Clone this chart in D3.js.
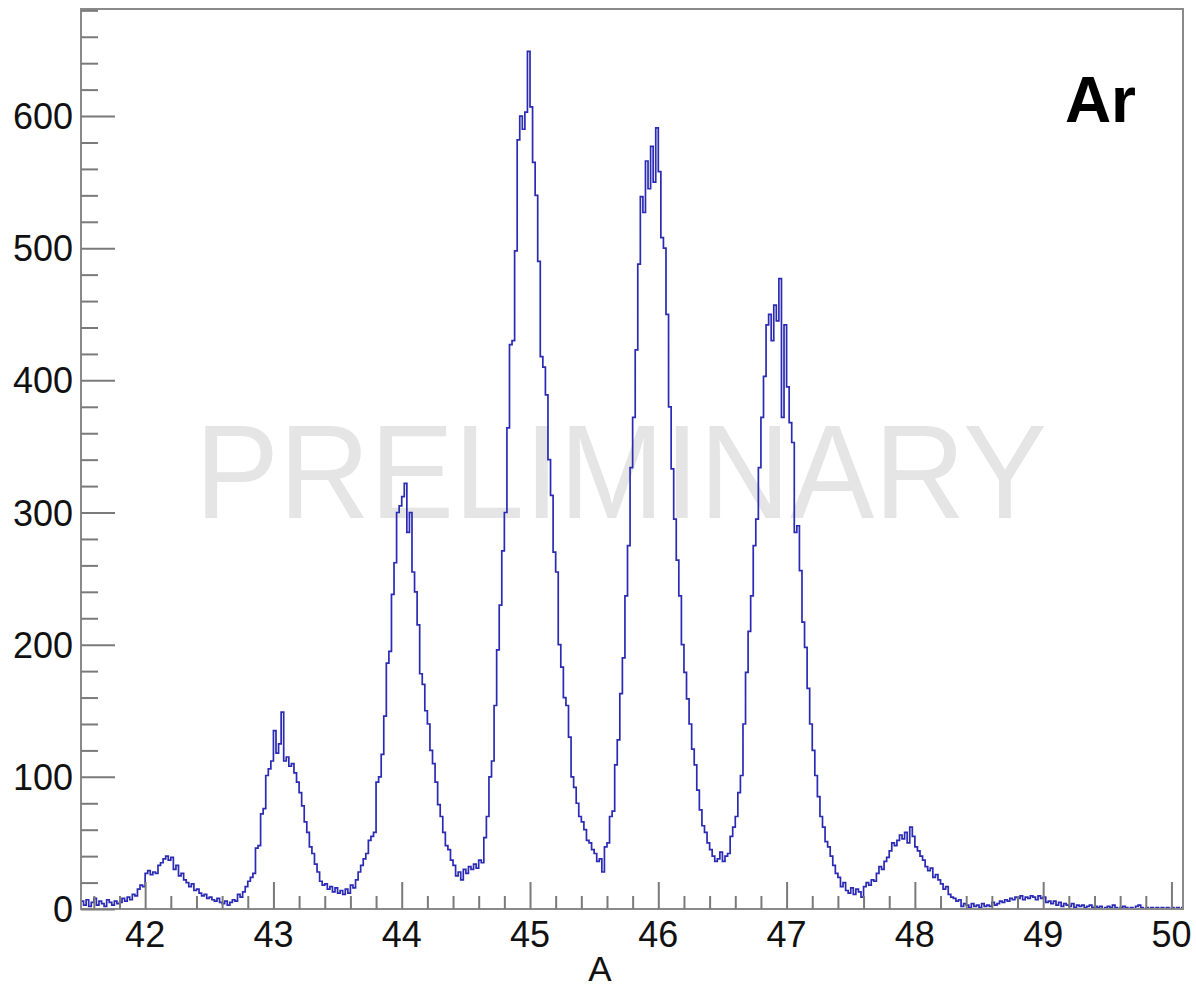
<!DOCTYPE html>
<html>
<head>
<meta charset="utf-8">
<script src="https://cdn.jsdelivr.net/npm/d3@7"></script>
<style>
  body { margin: 0; background: #fff; }
  text { font-family: "Liberation Sans", Arial, Helvetica, sans-serif; }
</style>
</head>
<body>
<script>
// Ar mass histogram, bins of 0.02 starting at 41.5

var binStart = 41.5;
var binWidth = 0.02;

// counts per unit of A (bins 41.50 .. 41.98)
var counts41 = [6, 3, 7, 2, 5, 8, 3, 6, 4, 2, 7, 5, 3, 6, 4, 5, 8, 6, 9, 7, 11, 10, 15, 18, 17];
// 42.00 .. 42.98
var counts42 = [27, 29, 26, 28, 27, 33, 35, 38, 40, 37,
                39, 30, 33, 25, 27, 22, 20, 17, 19, 14,
                15, 12, 10, 11, 8, 9, 7, 6, 8, 5,
                4, 6, 3, 5, 7, 6, 11, 9, 13, 17,
                21, 24, 27, 46, 48, 72, 76, 101, 106, 112];
// 43.00 .. 43.98
var counts43 = [135, 118, 125, 149, 112, 115, 108, 110, 103, 96,
                88, 78, 66, 58, 47, 42, 34, 28, 21, 18,
                19, 15, 17, 13, 16, 12, 14, 11, 15, 12,
                18, 16, 22, 28, 33, 38, 42, 52, 55, 58,
                96, 100, 117, 146, 186, 195, 238, 262, 300, 305];
// 44.00 .. 44.98
var counts44 = [312, 322, 285, 300, 255, 240, 215, 178, 170, 150,
                140, 120, 110, 96, 79, 70, 58, 48, 45, 37,
                33, 25, 28, 22, 30, 27, 32, 30, 34, 31,
                37, 35, 54, 70, 100, 112, 154, 196, 230, 271,
                300, 364, 427, 430, 498, 582, 600, 590, 603, 649];
// 45.00 .. 45.98
var counts45 = [607, 565, 540, 490, 418, 410, 389, 340, 313, 270,
                255, 200, 183, 160, 154, 130, 100, 92, 80, 70,
                66, 60, 52, 50, 45, 42, 36, 38, 28, 47,
                50, 70, 74, 109, 128, 163, 190, 237, 275, 334,
                372, 423, 488, 539, 527, 566, 545, 577, 550, 591];
// 46.00 .. 46.98
var counts46 = [558, 508, 500, 450, 380, 333, 295, 264, 237, 200,
                179, 159, 140, 121, 109, 90, 75, 63, 58, 50,
                45, 40, 36, 38, 43, 36, 40, 42, 55, 62,
                70, 88, 101, 140, 179, 210, 237, 275, 295, 334,
                372, 403, 442, 450, 430, 457, 445, 477, 372, 442];
// 47.00 .. 47.98
var counts47 = [395, 368, 353, 285, 290, 256, 217, 198, 167, 140,
                120, 101, 85, 70, 62, 51, 47, 40, 33, 27,
                24, 17, 20, 14, 12, 16, 11, 15, 13, 9,
                17, 20, 18, 22, 21, 27, 32, 30, 36, 39,
                44, 50, 48, 52, 56, 53, 58, 50, 62, 55];
// 48.00 .. 48.98
var counts48 = [47, 44, 40, 37, 32, 29, 31, 24, 26, 22,
                19, 15, 17, 11, 9, 8, 6, 7, 2, 4,
                3, 1, 4, 2, 3, 1, 4, 2, 3, 2,
                5, 3, 4, 6, 5, 7, 6, 8, 7, 9,
                8, 10, 7, 9, 8, 10, 9, 7, 10, 8];
// 49.00 .. 49.98
var counts49 = [9, 5, 6, 4, 6, 3, 5, 2, 4, 3,
                2, 4, 1, 3, 2, 3, 1, 2, 3, 1,
                2, 1, 2, 0, 1, 2, 1, 3, 1, 0,
                1, 2, 1, 0, 1, 0, 2, 3, 1, 0,
                1, 0, 1, 0, 1, 0, 1, 0, 1, 0];
// 50.00 .. 50.08
var counts50 = [1, 0, 1, 0, 1];

var xTickValues = [42, 43, 44, 45, 46, 47, 48, 49, 50];
var yTickValues = [0, 100, 200, 300, 400, 500, 600];

function init() {
    var w = 1196;
    var h = 990;
    var left = 81, right = 1183, top = 9, bottom = 909;

    var counts = [].concat(counts41, counts42, counts43, counts44, counts45,
                           counts46, counts47, counts48, counts49, counts50);

    var svg = d3.select("body")
                .append("svg")
                .attr("width", w)
                .attr("height", h);

    var xScale = d3.scaleLinear().domain([41.5, 50.09]).range([left, right]);
    var yScale = d3.scaleLinear().domain([0, 681]).range([bottom, top]);

    // watermark sits behind the histogram
    svg.append("text")
        .attr("x", 195)
        .attr("y", 518)
        .attr("font-size", 133)
        .attr("textLength", 852)
        .attr("lengthAdjust", "spacingAndGlyphs")
        .attr("fill", "#e5e5e5")
        .text("PRELIMINARY");

    svg.append("clipPath").attr("id", "plotclip")
        .append("rect")
        .attr("x", left).attr("y", top)
        .attr("width", right - left).attr("height", bottom - top);

    // step outline: each bin gives its left edge, plus the last right edge
    var pts = counts.map(function (c, i) { return [binStart + i * binWidth, c]; });
    pts.push([binStart + counts.length * binWidth, counts[counts.length - 1]]);

    var line = d3.line()
                 .x(function (d) { return xScale(d[0]); })
                 .y(function (d) { return yScale(d[1]); })
                 .curve(d3.curveStepAfter);

    svg.append("path")
        .datum(pts)
        .attr("clip-path", "url(#plotclip)")
        .attr("d", line)
        .attr("fill", "none")
        .attr("stroke", "#2a2ab4")
        .attr("stroke-width", 1.7);

    // frame
    svg.append("rect")
        .attr("x", left).attr("y", top)
        .attr("width", right - left).attr("height", bottom - top)
        .attr("fill", "none")
        .attr("stroke", "#8a8a8a")
        .attr("stroke-width", 2);

    // x axis: ticks point up into the frame
    var xMinor = d3.range(41.6, 50.09, 0.2).filter(function (v) {
        return Math.abs(v - Math.round(v)) > 0.01;
    });
    var xAxisMajor = d3.axisTop(xScale).tickValues(xTickValues).tickSize(27).tickFormat("");
    var xAxisMinor = d3.axisTop(xScale).tickValues(xMinor).tickSize(13).tickFormat("");

    [xAxisMajor, xAxisMinor].forEach(function (ax) {
        var g = svg.append("g")
            .attr("transform", "translate(0," + bottom + ")")
            .call(ax);
        g.select(".domain").remove();
        g.selectAll("line").attr("stroke", "#7a7a7a").attr("stroke-width", 2);
    });

    svg.selectAll(".xlabel")
        .data(xTickValues)
        .enter()
        .append("text")
        .attr("class", "xlabel")
        .attr("x", function (d) { return xScale(d); })
        .attr("y", 947)
        .attr("text-anchor", "middle")
        .attr("font-size", 36)
        .attr("fill", "#111")
        .text(function (d) { return d; });

    // y axis: ticks point right into the frame
    var yMinor = d3.range(20, 681, 20).filter(function (v) { return v % 100 !== 0; });
    var yAxisMajor = d3.axisRight(yScale).tickValues(yTickValues).tickSize(34).tickFormat("");
    var yAxisMinor = d3.axisRight(yScale).tickValues(yMinor).tickSize(17).tickFormat("");

    [yAxisMajor, yAxisMinor].forEach(function (ax) {
        var g = svg.append("g")
            .attr("transform", "translate(" + left + ",0)")
            .call(ax);
        g.select(".domain").remove();
        g.selectAll("line").attr("stroke", "#7a7a7a").attr("stroke-width", 2);
    });

    svg.selectAll(".ylabel")
        .data(yTickValues)
        .enter()
        .append("text")
        .attr("class", "ylabel")
        .attr("x", 73)
        .attr("y", function (d) { return yScale(d) + 13; })
        .attr("text-anchor", "end")
        .attr("font-size", 36)
        .attr("fill", "#111")
        .text(function (d) { return d; });

    // axis title
    svg.append("text")
        .attr("x", 600)
        .attr("y", 981)
        .attr("text-anchor", "middle")
        .attr("font-size", 35)
        .attr("fill", "#111")
        .text("A");

    // element label
    svg.append("text")
        .attr("x", 1136)
        .attr("y", 122)
        .attr("text-anchor", "end")
        .attr("font-size", 64)
        .attr("font-weight", "bold")
        .attr("fill", "#000")
        .text("Ar");
}

window.onload = init;
</script>
</body>
</html>
